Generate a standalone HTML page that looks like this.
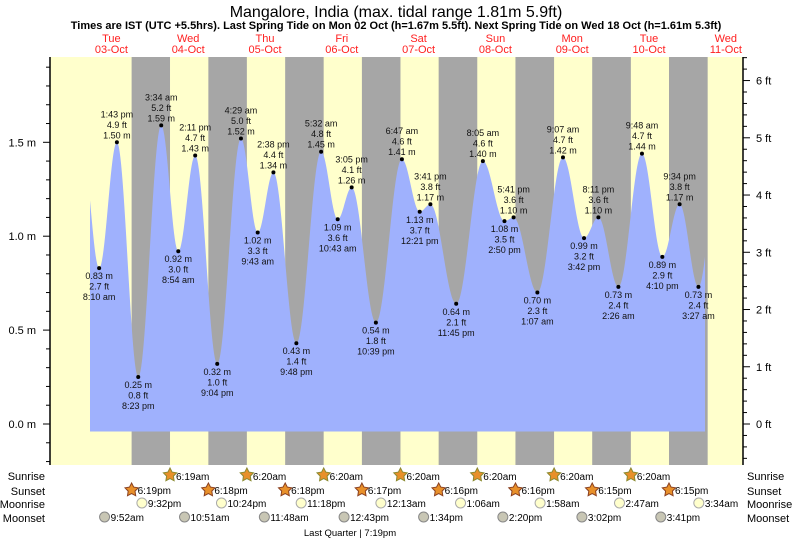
<!DOCTYPE html>
<html><head><meta charset="utf-8"><style>
html,body{margin:0;padding:0;background:#fff;}
svg{display:block;font-family:"Liberation Sans",sans-serif;}
</style></head><body>
<svg id="chart" width="793" height="539" viewBox="0 0 793 539" xmlns="http://www.w3.org/2000/svg">
<text x="396" y="17" font-size="16" text-anchor="middle">Mangalore, India (max. tidal range 1.81m 5.9ft)</text>
<text x="396" y="29" font-size="11" font-weight="bold" text-anchor="middle">Times are IST (UTC +5.5hrs). Last Spring Tide on Mon 02 Oct (h=1.67m 5.5ft). Next Spring Tide on Wed 18 Oct (h=1.61m 5.3ft)</text>
<g id="bg"></g><g id="tide"></g><g id="axes"></g><g id="labels"></g><g id="astro"></g>
<text x="350" y="536" font-size="9.5" text-anchor="middle">Last Quarter | 7:19pm</text>
</svg>
<script>
// Tide extremes: hours since 03-Oct 00:00, heights in m, printed times
const tideHours=[8+10/60,13+43/60,20+23/60,24+3+34/60,24+8+54/60,24+14+11/60,24+21+4/60,48+4+29/60,48+9+43/60,48+14+38/60,48+21+48/60,72+5+32/60,72+10+43/60,72+15+5/60,72+22+39/60,96+6+47/60,96+12+21/60,96+15+41/60,96+23+45/60,120+8+5/60,120+14+50/60,120+17+41/60,144+1+7/60,144+9+7/60,144+15+42/60,144+20+11/60,168+2+26/60,168+9+48/60,168+16+10/60,168+21+34/60,192+3+27/60];
const tideHeights=[0.83,1.50,0.25,1.59,0.92,1.43,0.32,1.52,1.02,1.34,0.43,1.45,1.09,1.26,0.54,1.41,1.13,1.17,0.64,1.40,1.08,1.10,0.70,1.42,0.99,1.10,0.73,1.44,0.89,1.17,0.73];
const tideTimes=["8:10 am","1:43 pm","8:23 pm","3:34 am","8:54 am","2:11 pm","9:04 pm","4:29 am","9:43 am","2:38 pm","9:48 pm","5:32 am","10:43 am","3:05 pm","10:39 pm","6:47 am","12:21 pm","3:41 pm","11:45 pm","8:05 am","2:50 pm","5:41 pm","1:07 am","9:07 am","3:42 pm","8:11 pm","2:26 am","9:48 am","4:10 pm","9:34 pm","3:27 am"];
const dayNames=["Tue","Wed","Thu","Fri","Sat","Sun","Mon","Tue","Wed"];
const dayDates=["03-Oct","04-Oct","05-Oct","06-Oct","07-Oct","08-Oct","09-Oct","10-Oct","11-Oct"];
const sunsetHours=[18+19/60,24+18+18/60,48+18+18/60,72+18+17/60,96+18+16/60,120+18+16/60,144+18+15/60,168+18+15/60];
const sunsetLabels=["6:19pm","6:18pm","6:18pm","6:17pm","6:16pm","6:16pm","6:15pm","6:15pm"];
const sunriseHours=[24+6+19/60,48+6+20/60,72+6+20/60,96+6+20/60,120+6+20/60,144+6+20/60,168+6+20/60,192+6+20/60];
const sunriseLabels=["6:19am","6:20am","6:20am","6:20am","6:20am","6:20am","6:20am"];
const moonriseHours=[21+32/60,24+22+24/60,48+23+18/60,96+13/60,120+1+6/60,144+1+58/60,168+2+47/60,192+3+34/60];
const moonriseLabels=["9:32pm","10:24pm","11:18pm","12:13am","1:06am","1:58am","2:47am","3:34am"];
const moonsetHours=[9+52/60,24+10+51/60,48+11+48/60,72+12+43/60,96+13+34/60,120+14+20/60,144+15+2/60,168+15+41/60];
const moonsetLabels=["9:52am","10:51am","11:48am","12:43pm","1:34pm","2:20pm","3:02pm","3:41pm"];
const leftTicks=["0.0 m","0.5 m","1.0 m","1.5 m"];
const rightTicks=["0 ft","1 ft","2 ft","3 ft","4 ft","5 ft","6 ft"];

const NS="http://www.w3.org/2000/svg";
const X0=73, PXH=3.2, Y0=424, PXM=187.8, TOP=57, BOT=465, L=50, R=743;
const xs=h=>X0+h*PXH, ys=m=>Y0-m*PXM;
function mk(p,tag,at){const e=document.createElementNS(NS,tag);for(const k in at)e.setAttribute(k,at[k]);p.appendChild(e);return e;}
function txt(p,x,y,s,size,anchor,fill){const t=mk(p,"text",{x:x,y:y,"font-size":size,"text-anchor":anchor||"middle",fill:fill||"#000"});t.textContent=s;return t;}
const bg=document.getElementById("bg"),tide=document.getElementById("tide"),axes=document.getElementById("axes"),lab=document.getElementById("labels"),astro=document.getElementById("astro");

let r=mk(bg,"rect",{x:L,y:TOP,width:R-L,height:BOT-TOP,fill:"#ffffcc"});


for(let i=0;i<sunsetHours.length;i++){
  const a=xs(sunsetHours[i]),b=xs(sunriseHours[i]);
  const n=mk(bg,"rect",{x:a,y:TOP,width:b-a,height:BOT-TOP,fill:"#a6a6a6"});
  
  
}
const H=[3].concat(tideHours,[202]), V=[1.45].concat(tideHeights,[1.45]);
const hStart=(90-X0)/PXH, hEnd=(705-X0)/PXH;
function val(h){for(let i=0;i<H.length-1;i++){if(h>=H[i]&&h<=H[i+1]){const f=(h-H[i])/(H[i+1]-H[i]);return V[i]+(V[i+1]-V[i])*(1-Math.cos(Math.PI*f))/2;}}return V[V.length-1];}
let d="M"+xs(hStart)+","+ys(-0.04);
for(let h=hStart;h<=hEnd;h+=0.25)d+=" L"+xs(h).toFixed(1)+","+ys(val(h)).toFixed(1);
d+=" L"+xs(hEnd)+","+ys(val(hEnd)).toFixed(1)+" L"+xs(hEnd)+","+ys(-0.04)+"Z";
const area=mk(tide,"path",{d:d,fill:"#9fb1fd"});


let la=mk(axes,"line",{x1:L,y1:TOP,x2:L,y2:BOT,stroke:"#000","stroke-width":1.5});


let ra=mk(axes,"line",{x1:R,y1:TOP,x2:R,y2:BOT,stroke:"#000","stroke-width":1.5});


for(let k=-2;k<=21;k++){const y=ys(k*0.1);if(y<TOP||y>BOT)continue;const big=k%5===0;
  const t=mk(axes,"line",{x1:L-(big?7:4),y1:y,x2:L,y2:y,stroke:"#000"});
  
  }
leftTicks.forEach((s,i)=>{const t=txt(axes,L-14,ys(i*0.5)+4,s,11,"end");
  
  });
for(let k=-5;k<=35;k++){const y=ys(k*0.2*0.3048);if(y<TOP||y>BOT)continue;const big=k%5===0;
  const t=mk(axes,"line",{x1:R,y1:y,x2:R+(big?7:4),y2:y,stroke:"#000"});
  
  }
rightTicks.forEach((s,i)=>{const t=txt(axes,R+13,ys(i*0.3048)+4,s,11,"start");
  
  });
dayNames.forEach((s,i)=>{const x=xs(12+24*i);
  const a=txt(axes,x,42,s,11,"middle","#ff2020");
  
  
  const b=txt(axes,x,53,dayDates[i],11,"middle","#ff2020");
  
  });
tideHours.forEach((h,i)=>{const x=xs(h),y=ys(tideHeights[i]),m=tideHeights[i];
  const high=(i===0?false:(i===tideHours.length-1?false:m>tideHeights[i-1]));
  const dot=mk(lab,"circle",{cx:x,cy:y,r:2,fill:"#000"});
  
  
  const ft=(m*3.28084).toFixed(1)+" ft",ms=m.toFixed(2)+" m";
  const lines=high?[tideTimes[i],ft,ms]:[ms,ft,tideTimes[i]];
  const base=high?y-25:y+11;
  lines.forEach((s,j)=>{const t=txt(lab,x,base+j*10.5,s,9,"middle","#111");
    
    });
});
function star(x,y,fill,edge){const p=[];for(let k=0;k<10;k++){const a=-Math.PI/2+k*Math.PI/5,rr=k%2?3.6:7;p.push((x+rr*Math.cos(a)).toFixed(1)+","+(y+rr*Math.sin(a)).toFixed(1));}
  return mk(astro,"polygon",{points:p.join(" "),fill:fill,stroke:edge,"stroke-width":1});}
const rows=[["Sunrise",476],["Sunset",491],["Moonrise",504],["Moonset",518]];
rows.forEach(([s,y])=>{const a=txt(astro,45,y+4,s,11,"end");
  
  
  const b=txt(astro,747,y+4,s,11,"start");
  
  });
sunriseLabels.forEach((lbl,i)=>{const x=xs(sunriseHours[i]);const s=star(x,475,"#e8902a","#8a8a30");
  
  
  const t=txt(astro,x+6,480,lbl,10,"start");
  
  });
sunsetHours.forEach((h,i)=>{const x=xs(h);const s=star(x,490,"#e8902a","#8a4020");
  
  
  const t=txt(astro,x+6,494,sunsetLabels[i],10,"start");
  
  });
moonriseHours.forEach((h,i)=>{const x=xs(h);const c=mk(astro,"circle",{cx:x,cy:503,r:5,fill:"#ffffcc",stroke:"#aaa"});
  
  
  const t=txt(astro,x+6,507,moonriseLabels[i],10,"start");
  
  });
moonsetHours.forEach((h,i)=>{const x=xs(h);const c=mk(astro,"circle",{cx:x,cy:517,r:5,fill:"#c8c6b4",stroke:"#888"});
  
  
  const t=txt(astro,x+6,521,moonsetLabels[i],10,"start");
  
  });
</script>
</body></html>
